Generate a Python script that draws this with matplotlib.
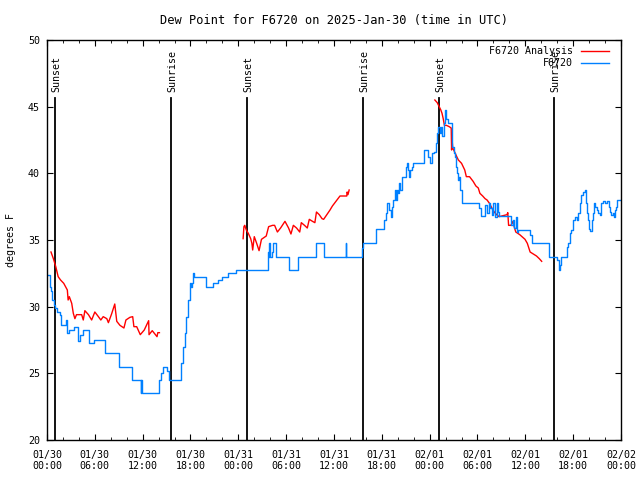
import numpy as np
import pandas as pd
import matplotlib
matplotlib.use('Agg')
import matplotlib.pyplot as plt
import matplotlib.dates as mdates

# hours after 2025-01-30 00:00 UTC
obs_hours = [0.1, 0.35, 0.55, 0.67, 0.85, 1.05, 1.3, 1.6, 1.8, 2.35, 2.5, 2.75, 3.35, 3.85, 4.1, 4.5,
             5.25, 5.9, 7.25, 9.0, 10.6, 11.75, 11.85, 11.95, 14.0, 14.3, 14.6, 15.05, 15.3,
             16.85, 17.05, 17.25, 17.45, 17.65, 17.9, 18.05, 18.25, 18.35, 18.5, 19.95, 20.85,
             21.5, 21.95, 22.7, 23.75, 27.7, 27.8, 27.9, 28.0, 28.2, 28.35, 28.75, 30.35, 31.45,
             33.7, 34.75, 37.45, 37.55, 39.55, 39.7, 41.3, 42.3, 42.5, 42.65, 42.9, 43.2, 43.3,
             43.45, 43.6, 43.75, 43.85, 44.0, 44.1, 44.3, 44.55, 45.0, 45.15, 45.3, 45.4, 45.55,
             45.75, 45.9, 47.25, 47.75, 48.0, 48.35, 48.6, 48.8, 48.95, 49.1, 49.3, 49.4, 49.5,
             49.8, 49.9, 50.0, 50.1, 50.3, 50.75, 50.85, 51.0, 51.2, 51.3, 51.45, 51.6, 51.65,
             51.8, 52.0, 54.2, 54.4, 54.95, 55.2, 55.4, 55.6, 55.8, 56.0, 56.2, 56.4, 56.6, 56.7,
             58.2, 58.4, 58.55, 58.8, 58.9, 59.1, 60.6, 60.8, 63.0, 64.0, 64.2, 64.35, 64.5,
             65.2, 65.35, 65.55, 65.75, 66.0, 66.2, 66.45, 66.6, 66.85, 67.0, 67.25, 67.45, 67.6,
             67.75, 67.9, 68.0, 68.15, 68.3, 68.45, 68.6, 68.75, 69.0, 69.15, 69.35, 69.5, 69.7,
             69.95, 70.2, 70.45, 70.65, 70.8, 70.95, 71.1, 71.2, 71.35, 71.5, 72.0]
obs_dewpt = [32.4, 31.5, 31.2, 30.5, 30.1, 29.9, 29.6, 29.4, 28.6, 29.0, 28.0, 28.25, 28.5, 27.45, 27.9, 28.25,
             27.25, 27.5, 26.5, 25.5, 24.5, 23.5, 24.5, 23.5, 24.5, 25.0, 25.5, 25.2, 24.5,
             25.75, 27.0, 28.0, 29.25, 30.5, 31.75, 31.5, 31.75, 32.5, 32.25, 31.5, 31.8,
             32.0, 32.25, 32.5, 32.75, 34.1, 33.75, 34.75, 33.75, 34.1, 34.75, 33.75, 32.75, 33.75,
             34.75, 33.75, 34.75, 33.75, 34.4, 34.75, 35.8, 36.5, 37.0, 37.75, 37.25, 36.75, 37.5,
             38.0, 38.75, 38.0, 38.75, 38.5, 39.25, 38.75, 39.75, 40.5, 40.8, 40.25, 39.75, 40.25,
             40.5, 40.8, 41.75, 41.25, 40.75, 41.5, 41.6, 42.25, 43.0, 43.5, 43.0, 43.5, 42.8,
             43.75, 44.75, 44.4, 44.1, 43.75, 43.5, 42.0, 41.5, 41.25, 40.5, 40.0, 39.5, 39.75,
             38.75, 37.75, 37.4, 36.8, 37.6, 37.0, 37.75, 37.4, 36.9, 37.75, 36.75, 37.75, 37.1, 36.8,
             36.1, 36.5, 35.9, 36.75, 35.6, 35.75, 35.4, 34.75, 33.75, 33.5, 32.75, 33.1, 33.75,
             34.45, 34.8, 35.5, 35.75, 36.5, 36.75, 36.5, 37.0, 37.75, 38.4, 38.6, 38.75, 37.75,
             37.0, 36.5, 35.8, 35.7, 36.5, 37.0, 37.75, 37.5, 37.25, 37.0, 36.9, 37.75, 37.9,
             37.75, 37.9, 37.5, 37.1, 36.9, 37.0, 36.75, 37.25, 37.5, 38.0, 38.0]

ana_hours = [0.5, 0.8, 1.1, 1.4, 1.7, 2.1, 2.55, 2.65, 2.8, 3.1, 3.3, 3.5, 3.7, 4.35, 4.55, 4.75, 5.2, 5.6,
             6.0, 6.45, 6.75, 7.05, 7.5, 7.7, 8.1, 8.5, 8.75, 9.15, 9.65, 9.9, 10.4, 10.75, 10.9, 11.25,
             11.7, 12.2, 12.75, 12.8, 13.2, 13.8, 13.9, 14.1, np.nan,
             24.6, 24.7, 24.8, 25.0, 25.25, 25.55, 25.7, 25.8, 26.0, 26.3, 26.6, 26.9, 27.5, 27.8, 28.3,
             28.55, 28.9, 29.3, 29.85, 30.3, 30.6, 30.9, 31.3, 31.7, 31.9, 32.3, 32.65, 32.9, 33.3, 33.6,
             33.8, 34.15, 34.5, 34.7, 35.1, 35.5, 35.8, 36.25, 36.75, 37.6, 37.65, 37.75, 37.9, np.nan,
             48.65, 48.95, 49.2, 49.4, 49.55, 49.7, 49.85, 50.1, 50.45, 50.7, 50.75, 50.8, 50.9, 51.2,
             51.4, 51.6, 52.0, 52.4, 52.6, 53.0, 53.45, 53.8, 54.1, 54.3, 54.65, 54.95, 55.2, 55.5, 55.8,
             56.1, 56.4, 56.7, 57.7, 57.8, 57.9, 58.2, 58.45, 58.6, 58.8, 59.3, 59.96, 60.25, 60.6, 61.0,
             61.4, 61.75, 62.05]
ana_dewpt = [34.1, 33.6, 33.0, 32.25, 32.0, 31.75, 31.25, 30.5, 30.75, 30.25, 29.5, 29.1, 29.4, 29.4, 29.0,
             29.7, 29.4, 29.0, 29.6, 29.25, 29.0, 29.25, 29.1, 28.8, 29.45, 30.2, 28.9, 28.6, 28.4, 29.0,
             29.2, 29.25, 28.5, 28.5, 27.9, 28.25, 28.95, 27.9, 28.2, 27.75, 28.05, 28.05, np.nan,
             35.1, 36.0, 36.1, 35.75, 35.5, 35.1, 34.75, 34.25, 35.25, 34.75, 34.2, 35.05, 35.3, 36.0, 36.1,
             36.1, 35.6, 35.9, 36.4, 35.9, 35.45, 36.1, 35.9, 35.6, 36.3, 36.1, 35.9, 36.55, 36.4, 36.3,
             37.1, 36.9, 36.6, 36.55, 36.9, 37.25, 37.55, 37.9, 38.3, 38.3, 38.6, 38.4, 38.75, np.nan,
             45.5, 45.3, 45.0, 44.75, 44.5, 44.1, 43.6, 43.6, 43.5, 43.4, 41.75, 42.6, 41.9, 41.5,
             41.25, 41.0, 40.75, 40.25, 39.75, 39.75, 39.4, 39.05, 38.9, 38.5, 38.3, 38.1, 38.0, 37.75, 37.4,
             37.1, 36.9, 36.75, 36.9, 37.05, 36.1, 36.1, 36.4, 36.0, 35.6, 35.4, 35.05, 34.75, 34.1, 33.95,
             33.8, 33.6, 33.4]

sun_hours = [1.0, 15.55, 25.1, 39.6, 49.2, 63.6]
sun_labels = ['Sunset', 'Sunrise', 'Sunset', 'Sunrise', 'Sunset', 'Sunrise']

start = pd.Timestamp('2025-01-30 00:00')


def to_time(hours):
    return start + pd.to_timedelta(np.array(hours, dtype=float), unit='h')


plt.rcParams['font.family'] = ['DejaVu Sans Mono']
plt.rcParams['font.size'] = 7.2

fig = plt.figure(figsize=(6.4, 4.8), dpi=100)
ax = fig.add_axes([47 / 640, 40 / 480, 574 / 640, 400 / 480])

for h, lab in zip(sun_hours, sun_labels):
    t = to_time([h])[0]
    ax.plot([t, t], [20, 45.65], color='black', linewidth=1.3)
    ax.text(t + pd.Timedelta(minutes=12), 46.1, lab, rotation=90, ha='center', va='bottom')

ax.plot(to_time(ana_hours), ana_dewpt, color='#ff0000', linewidth=1.0, label='F6720 Analysis')
ax.plot(to_time(obs_hours), obs_dewpt, color='#0080ff', linewidth=1.0,
        drawstyle='steps-post', label='F6720')

ax.set_xlim(start, start + pd.Timedelta(hours=72))
ax.set_ylim(20, 50)
ax.set_yticks(np.arange(20, 51, 5))
ax.xaxis.set_major_locator(mdates.HourLocator(byhour=[0, 6, 12, 18]))
ax.xaxis.set_minor_locator(mdates.HourLocator(interval=2))
ax.xaxis.set_major_formatter(mdates.DateFormatter('%m/%d\n%H:%M'))
ax.tick_params(which='both', direction='in', top=True, right=True, color='black')
ax.tick_params(which='major', length=4, pad=5)
ax.tick_params(axis='x', which='major', pad=7)
ax.tick_params(which='minor', length=2)
for s in ax.spines.values():
    s.set_linewidth(1.0)

ax.set_ylabel('degrees F', labelpad=9)
ax.set_title('Dew Point for F6720 on 2025-Jan-30 (time in UTC)', pad=11.5)

ax.legend(loc='upper right', bbox_to_anchor=(1.0, 1.015), frameon=False, markerfirst=False,
          handlelength=2.8, handletextpad=0.8, labelspacing=0.2, borderaxespad=0.8)

fig.savefig('out.png', dpi=100)
